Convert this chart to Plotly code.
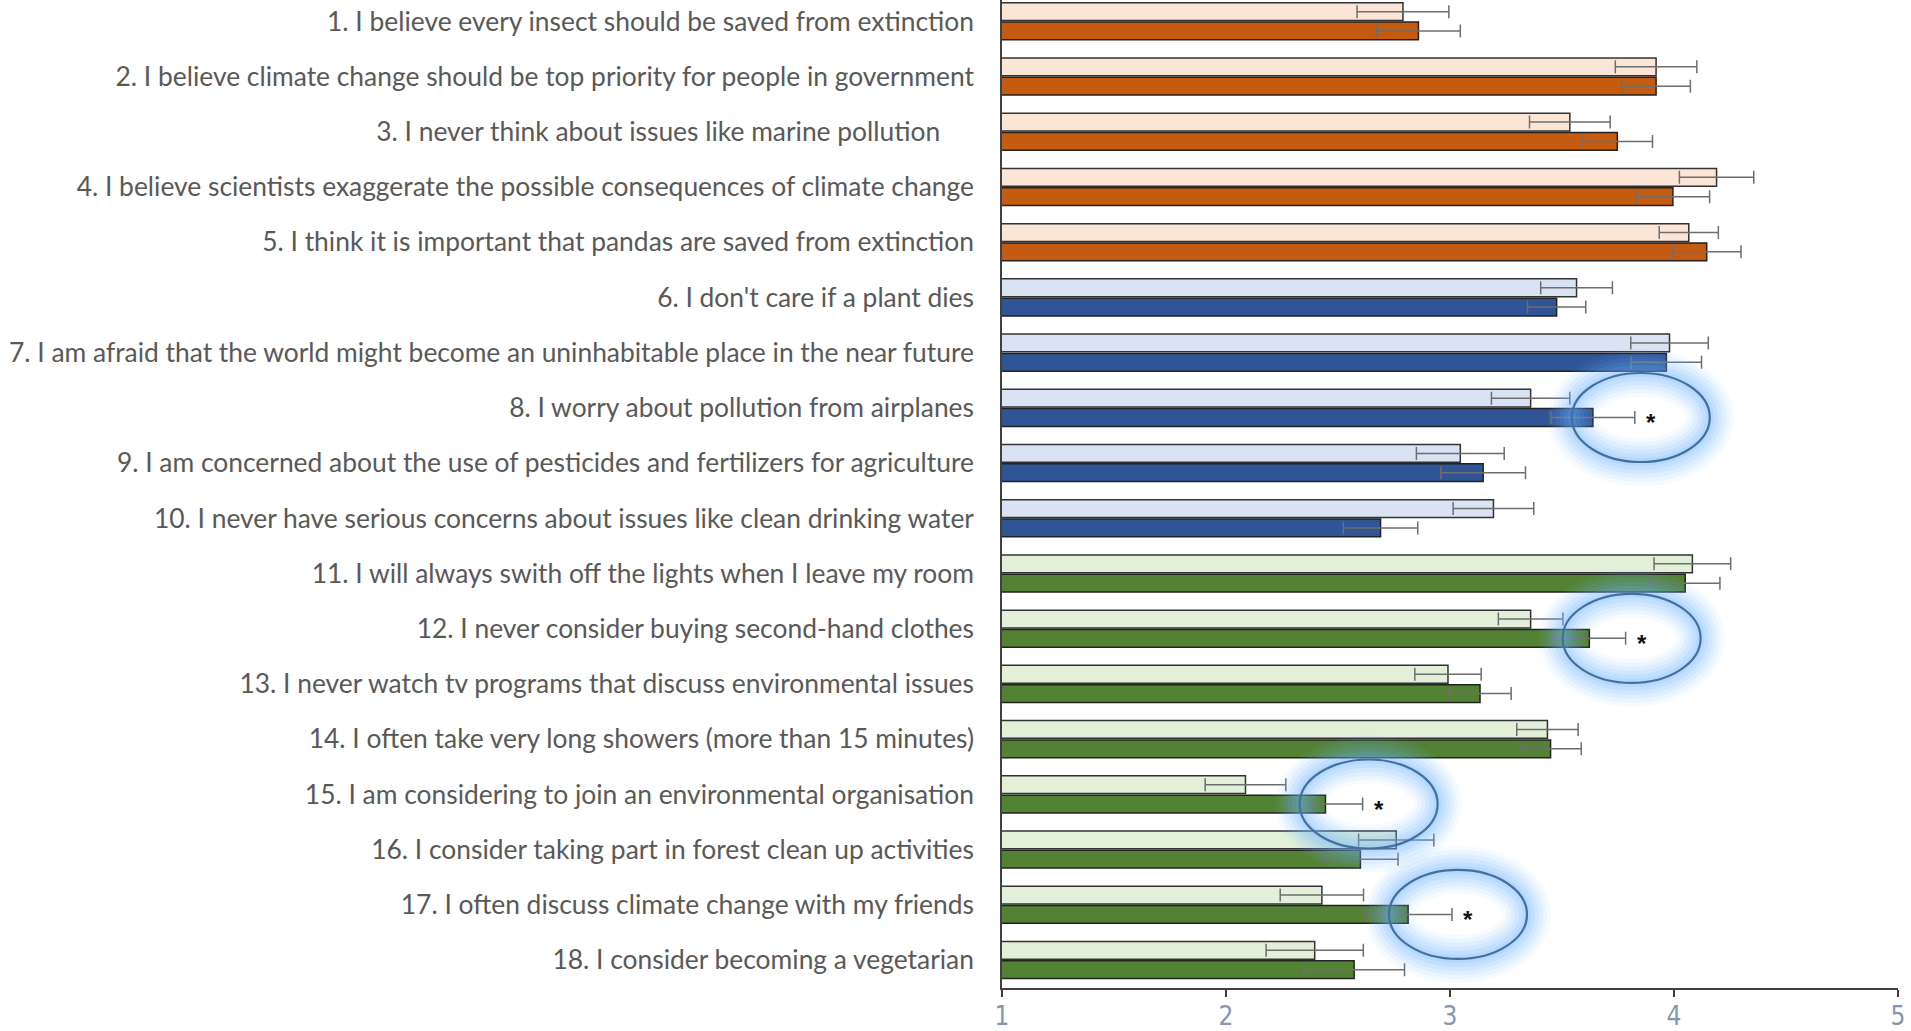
import plotly.graph_objects as go

# ---------------- data ----------------
questions = [
    "1. I believe every insect should be saved from extinction",
    "2. I believe climate change should be top priority for people in government",
    "3. I never think about issues like marine pollution" + "\u00a0" * 5,
    "4. I believe scientists exaggerate the possible consequences of climate change",
    "5. I think it is important that pandas are saved from extinction",
    "6. I don't care if a plant dies",
    "7. I am afraid that the world might become an uninhabitable place in the near future",
    "8. I worry about pollution from airplanes",
    "9. I am concerned about the use of pesticides and fertilizers for agriculture",
    "10. I never have serious concerns about issues like clean drinking water",
    "11. I will always swith off the lights when I leave my room",
    "12. I never consider buying second-hand clothes",
    "13. I never watch tv programs that discuss environmental issues",
    "14. I often take very long showers (more than 15 minutes)",
    "15. I am considering to join an environmental organisation",
    "16. I consider taking part in forest clean up activities",
    "17. I often discuss climate change with my friends",
    "18. I consider becoming a vegetarian",
]
section = ["A"] * 5 + ["B"] * 5 + ["C"] * 8

light_means = [2.79, 3.92, 3.535, 4.19, 4.066, 3.565, 3.98, 3.36, 3.046, 3.194,
               4.082, 3.36, 2.991, 3.435, 2.087, 2.76, 2.428, 2.396]
light_err = [0.205, 0.182, 0.18, 0.166, 0.132, 0.16, 0.173, 0.175, 0.196, 0.18,
             0.171, 0.144, 0.148, 0.137, 0.18, 0.168, 0.186, 0.217]
dark_means = [2.859, 3.92, 3.747, 3.995, 4.146, 3.476, 3.966, 3.638, 3.148, 2.69,
              4.05, 3.622, 3.134, 3.449, 2.444, 2.60, 2.813, 2.572]
dark_err = [0.187, 0.153, 0.157, 0.164, 0.153, 0.13, 0.157, 0.187, 0.189, 0.166,
            0.155, 0.162, 0.139, 0.137, 0.166, 0.168, 0.196, 0.225]
significant = [8, 12, 15, 17]
x_ticks = [1, 2, 3, 4, 5]

# ---------------- styles ----------------
light_col = {"A": "#FBE5D6", "B": "#DAE3F3", "C": "#E2F0D9"}
dark_col = {"A": "#C55A11", "B": "#2F5597", "C": "#548235"}
pos = list(range(len(questions)))
BARGAP = 0.30
dark_offset = (1 - BARGAP) / 4
PX_PER_UNIT = 224.0

err_style = dict(type="data", symmetric=True, color="#6e6e6e", thickness=1.5, width=6.5)

fig = go.Figure()
fig.add_trace(go.Bar(
    y=pos, x=light_means, orientation="h",
    marker=dict(color=[light_col[s] for s in section], line=dict(color="#333333", width=1.5)),
    error_x=dict(array=light_err, **err_style),
    hoverinfo="x",
))
fig.add_trace(go.Bar(
    y=pos, x=dark_means, orientation="h",
    marker=dict(color=[dark_col[s] for s in section], line=dict(color="#222222", width=1.5)),
    error_x=dict(array=dark_err, **err_style),
    hoverinfo="x",
))

shapes = []
annotations = []
rx = 69 / PX_PER_UNIT
ry = 0.806
for q in significant:
    i = q - 1
    x_end = dark_means[i] + dark_err[i]
    cx = x_end + 6 / PX_PER_UNIT
    cy = i + dark_offset
    for w, a in [(48, 0.06), (40, 0.08), (32, 0.10), (24, 0.12), (16, 0.14), (8, 0.14)]:
        shapes.append(dict(type="circle", xref="x", yref="y",
                           x0=cx - rx, x1=cx + rx, y0=cy - ry, y1=cy + ry,
                           line=dict(color=f"rgba(110,180,255,{a})", width=w),
                           layer="above"))
    shapes.append(dict(type="circle", xref="x", yref="y",
                       x0=cx - rx, x1=cx + rx, y0=cy - ry, y1=cy + ry,
                       line=dict(color="#41719C", width=2.2), layer="above"))
    annotations.append(dict(x=x_end, y=cy, xref="x", yref="y", text="<b>*</b>",
                            showarrow=False, xshift=16, yshift=-5,
                            font=dict(size=24, color="#111111", family="Liberation Sans")))

fig.update_layout(
    width=1911, height=1031,
    margin=dict(l=1002, r=13, t=0, b=43, pad=0),
    plot_bgcolor="white", paper_bgcolor="white",
    barmode="group", bargap=BARGAP, bargroupgap=0.08,
    showlegend=False,
    shapes=shapes, annotations=annotations,
    xaxis=dict(range=[1, 5], tickvals=x_ticks, ticktext=[str(t) for t in x_ticks],
               automargin=False,
               showgrid=False, zeroline=False, showline=True, linecolor="#404040", linewidth=1.5,
               ticks="outside", ticklen=7, tickwidth=1.5, tickcolor="#404040",
               ticklabelstandoff=-3,
               tickfont=dict(family="Liberation Sans Narrow, DejaVu Sans Condensed, sans-serif",
                             size=26, color="#8497B0")),
    yaxis=dict(range=[17.507, -0.386], tickvals=pos, ticktext=questions,
               automargin=False,
               showgrid=False, zeroline=False, showline=True, linecolor="#404040", linewidth=1.5,
               ticks="", ticklabelstandoff=21,
               tickfont=dict(family="Lato, sans-serif", size=26.4, color="#595959")),
)

fig.write_html("out.html", config={"displayModeBar": False},
               post_script="document.body.style.margin='0';document.body.style.overflow='hidden';")
